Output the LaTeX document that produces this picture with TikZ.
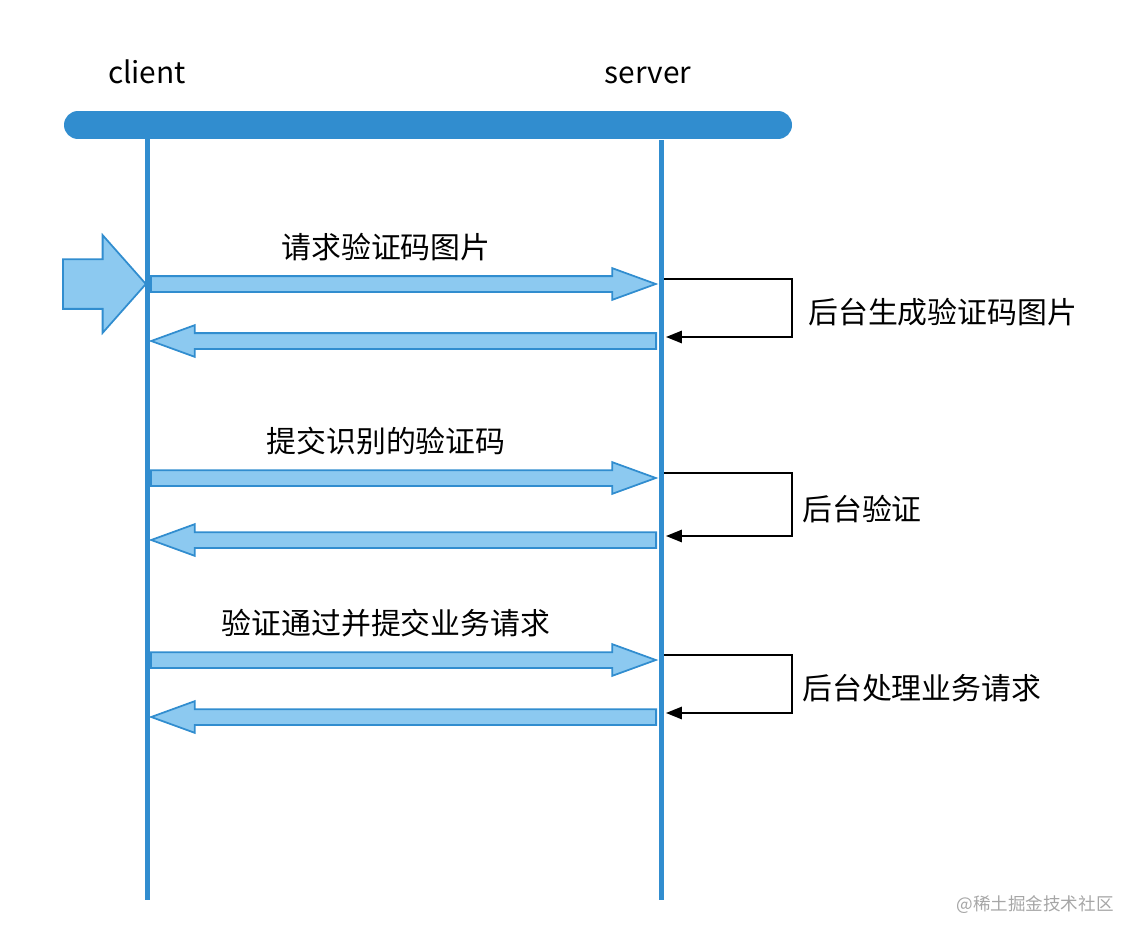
\documentclass[tikz,border=0pt]{standalone}
\usepackage{fontspec}
\setmainfont{Noto Sans CJK SC}
\usetikzlibrary{shapes.arrows, arrows.meta, positioning}
\definecolor{lineblue}{HTML}{318DCF}
\definecolor{fillblue}{HTML}{8CC9F0}
\tikzset{
    lbl/.style={font=\fontsize{17}{20}\selectfont, inner sep=0pt},
    msg/.style={single arrow, draw=lineblue, fill=fillblue, line width=1pt,
        inner sep=0.14cm, single arrow head extend=0.16cm, single arrow tip angle=40,
        minimum height=10.1cm, anchor=tail},
    loopline/.style={line width=1pt, -{Triangle[length=9pt,width=7pt]}},
}
\begin{document}
\begin{tikzpicture}[x=0.02cm, y=-0.02cm]
    \useasboundingbox (0,0) rectangle (1140,940);
    % header and lifelines
    \draw[lineblue, line width=28*0.02cm, line cap=round] (78,125) -- (778,125);
    \node[lbl] (client) at (147,72) {client};
    \node[lbl] (server) at (648,75) {server};
    \coordinate (c0) at (147,138); \coordinate (c1) at (147,900);
    \coordinate (s0) at (661,140); \coordinate (s1) at (661,900);
    \draw[lineblue, line width=5*0.02cm] (c0) -- (c1);
    \draw[lineblue, line width=5*0.02cm] (s0) -- (s1);
    % start arrow
    \node[single arrow, draw=lineblue, fill=fillblue, line width=1pt, inner sep=0.48cm,
        single arrow head extend=0.48cm, single arrow tip angle=97,
        minimum height=1.66cm, anchor=tail] (start) at (62,284) {};
    % messages
    \foreach \yf/\yb/\req/\resp/\rx [count=\i] in {
        284/341/请求验证码图片/后台生成验证码图片/808,
        478/540/提交识别的验证码/后台验证/802,
        660/717/验证通过并提交业务请求/后台处理业务请求/802}{
        \node[msg] (fwd\i) at (150,\yf) {};
        \node[msg, shape border rotate=180] (back\i) at (657,\yb) {};
        \node[lbl] (req\i) at (386,\yf-37) {\req};
        \coordinate (la\i) at (664,\yf-5);
        \coordinate (lb\i) at (666,\yb-4);
        \draw[loopline] (la\i) -| (792,\yb-4) -- (lb\i);
        \node[lbl, anchor=west] (resp\i) at (\rx,\yf+\yb/2-\yf/2) {\resp};
    }
    \node[font=\fontsize{10}{12}\selectfont, text=gray!70, inner sep=0pt] (mark) at (1035,905) {@稀土掘金技术社区};
\end{tikzpicture}
\end{document}
